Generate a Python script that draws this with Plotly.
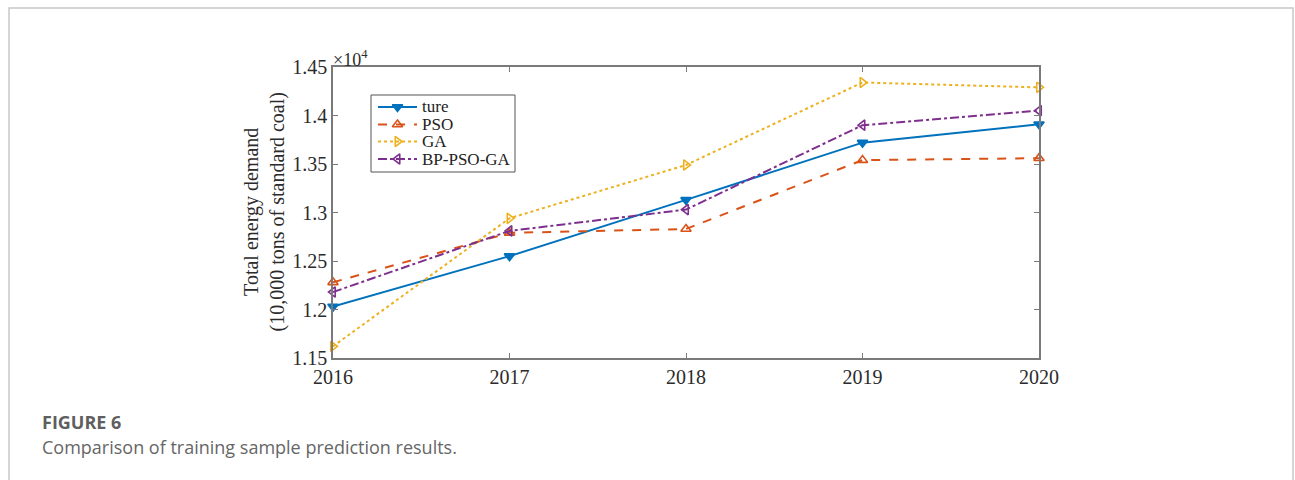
import plotly.graph_objects as go

# Years on the horizontal axis
years = [2016, 2017, 2018, 2019, 2020]

# Total energy demand (x 10^4, 10,000 tons of standard coal)
ture = [1.203, 1.255, 1.313, 1.372, 1.391]
pso = [1.228, 1.279, 1.283, 1.354, 1.356]
ga = [1.162, 1.294, 1.349, 1.434, 1.429]
bp_pso_ga = [1.218, 1.281, 1.303, 1.390, 1.405]

series_names = ["ture", "PSO", "GA", "BP-PSO-GA"]

y_ticks = [1.15, 1.2, 1.25, 1.3, 1.35, 1.4, 1.45]
y_tick_text = ["1.15", "1.2", "1.25", "1.3", "1.35", "1.4", "1.45"]

styles = [
    dict(color="#0072BD", dash="solid", symbol="triangle-down"),
    dict(color="#D95319", dash="dash", symbol="triangle-up-open"),
    dict(color="#EDB120", dash="dot", symbol="triangle-right-open"),
    dict(color="#7E2F8E", dash="dashdot", symbol="triangle-left-open"),
]
values = [ture, pso, ga, bp_pso_ga]

SERIF = "Liberation Serif, Times New Roman, serif"
SANS = "Open Sans, sans-serif"

X_RANGE = [2016, 2020]
Y_RANGE = [1.15, 1.45]

# plot area in pixels: x 333..1039, y 67..358
L, R, T, B = 333, 1039, 67, 358
W, H = 1295, 480


def px(xp):
    """pixel column -> paper fraction"""
    return (xp - L) / (R - L)


def py(yp):
    """pixel row -> paper fraction"""
    return (B - yp) / (B - T)


def dx(xp):
    """pixel column -> x data value"""
    return X_RANGE[0] + px(xp) * (X_RANGE[1] - X_RANGE[0])


def dy(yp):
    """pixel row -> y data value"""
    return Y_RANGE[0] + py(yp) * (Y_RANGE[1] - Y_RANGE[0])


fig = go.Figure()
for name, vals, st in zip(series_names, values, styles):
    fig.add_trace(go.Scatter(
        x=years, y=vals, name=name, mode="lines+markers",
        line=dict(color=st["color"], width=2, dash=st["dash"]),
        marker=dict(symbol=st["symbol"], size=9, color=st["color"],
                    line=dict(color=st["color"], width=1.6)),
        showlegend=False, cliponaxis=False,
    ))

axis_common = dict(
    showline=True, linecolor="#7a7a7a", linewidth=1.5, mirror="ticks",
    ticks="inside", ticklen=5, tickcolor="#7a7a7a", tickwidth=1,
    showgrid=False, zeroline=False,
    tickfont=dict(family=SERIF, size=20, color="#2b2b2b"),
)

fig.update_layout(
    width=W, height=H,
    margin=dict(l=L, r=W - R, t=T, b=H - B),
    paper_bgcolor="white", plot_bgcolor="white",
    showlegend=False,
    xaxis=dict(range=X_RANGE, tickvals=years,
               ticktext=[str(y) for y in years], **axis_common),
    yaxis=dict(range=Y_RANGE, tickvals=y_ticks,
               ticktext=y_tick_text, **axis_common),
)

# legend box
fig.add_shape(type="rect", xref="paper", yref="paper",
              x0=px(371), x1=px(515), y0=py(172), y1=py(95),
              line=dict(color="#555555", width=1), fillcolor="white",
              layer="below")
row_y = [107, 124.5, 141.5, 159]
for name, st, ry in zip(series_names, styles, row_y):
    fig.add_shape(type="line", xref="paper", yref="paper",
                  x0=px(378), x1=px(417), y0=py(ry), y1=py(ry),
                  line=dict(color=st["color"], width=2, dash=st["dash"]),
                  layer="below")
    fig.add_trace(go.Scatter(
        x=[dx(397.5)], y=[dy(ry)], mode="markers",
        marker=dict(symbol=st["symbol"], size=9, color=st["color"],
                    line=dict(color=st["color"], width=1.6)),
        showlegend=False, hoverinfo="skip",
    ))
    fig.add_annotation(text=name, xref="paper", yref="paper",
                       x=px(420), y=py(ry),
                       xanchor="left", yanchor="middle", showarrow=False,
                       font=dict(family=SERIF, size=17, color="#222222"))

# y-axis title (two lines)
fig.add_annotation(
    text="Total energy demand<br>(10,000 tons of standard coal)",
    xref="paper", yref="paper", x=px(264), y=0.5,
    xanchor="center", yanchor="middle", textangle=-90, showarrow=False,
    font=dict(family=SERIF, size=20, color="#2b2b2b"),
)

# exponent marker
fig.add_annotation(
    text="\u00d710<sup>4</sup>", xref="paper", yref="paper",
    x=px(331), y=py(58), xanchor="left", yanchor="middle", showarrow=False,
    font=dict(family=SERIF, size=18, color="#2b2b2b"),
)

# caption
fig.add_annotation(
    text="<b>FIGURE 6</b>", xref="paper", yref="paper",
    x=px(40), y=py(422), xanchor="left", yanchor="middle", showarrow=False,
    font=dict(family=SANS, size=18, color="#5f5f5f"),
)
fig.add_annotation(
    text="Comparison of training sample prediction results.",
    xref="paper", yref="paper",
    x=px(40), y=py(447), xanchor="left", yanchor="middle", showarrow=False,
    font=dict(family=SANS, size=18, color="#666666"),
)

# outer figure frame
fig.add_shape(
    type="rect", xref="paper", yref="paper",
    x0=px(9), x1=px(1293), y0=py(500), y1=py(8),
    line=dict(color="#c8c8c8", width=1.5), fillcolor="rgba(0,0,0,0)",
    layer="below",
)

fig.write_html("out.html")
